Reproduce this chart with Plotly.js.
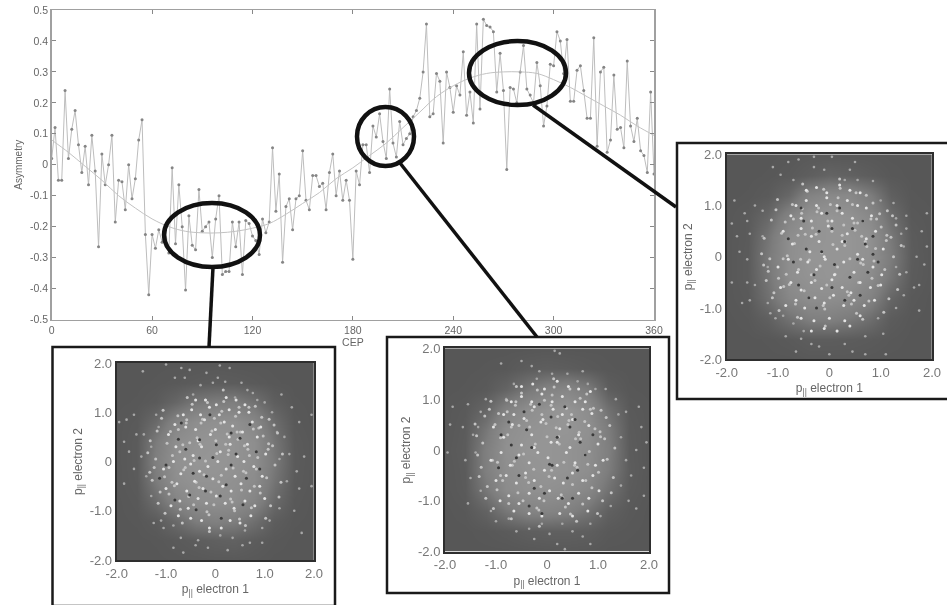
<!DOCTYPE html>
<html><head><meta charset="utf-8">
<script src="https://cdn.plot.ly/plotly-3.0.1.min.js"></script>
<style>html,body{margin:0;padding:0;background:#fff}#c{width:947px;height:605px;filter:blur(0.6px)}</style>
</head><body><div id="c"></div>
<script>
// ---- main curve data ----
const cepStepDeg = [0,2,4,6,8,10,12,14,16,18,20,22,24,26,28,30,32,34,36,38,40,42,44,46,48,50,52,54,56,58,60,62,64,66,68,70,72,74,76,78,80,82,84,86,88,90,92,94,96,98,100,102,104,106,108,110,112,114,116,118,120,122,124,126,128,130,132,134,136,138,140,142,144,146,148,150,152,154,156,158,160,162,164,166,168,170,172,174,176,178,180,182,184,186,188,190,192,194,196,198,200,202,204,206,208,210,212,214,216,218,220,222,224,226,228,230,232,234,236,238,240,242,244,246,248,250,252,254,256,258,260,262,264,266,268,270,272,274,276,278,280,282,284,286,288,290,292,294,296,298,300,302,304,306,308,310,312,314,316,318,320,322,324,326,328,330,332,334,336,338,340,342,344,346,348,350,352,354,356,358,360];
const asymmetry = [.02,.12,-.05,-.05,.24,.02,.115,.175,.065,-.025,.06,-.065,.095,-.02,-.265,.035,-.065,0,.095,-.185,-.05,-.055,-.145,0,-.11,-.045,.08,.145,-.225,-.42,-.225,-.27,-.21,-.25,-.21,-.285,-.01,-.255,-.065,-.2,-.405,-.165,-.26,-.275,-.08,-.215,-.2,-.185,-.3,-.175,-.1,-.355,-.345,-.345,-.185,-.265,-.185,-.355,-.18,-.19,-.23,-.245,-.29,-.175,-.22,-.185,.055,-.15,-.03,-.315,-.135,-.11,-.21,-.11,-.1,.045,-.115,-.145,-.035,-.035,-.07,-.06,-.145,-.025,.035,-.1,-.02,-.115,-.05,-.115,-.305,-.02,-.065,.065,.065,-.025,.125,.09,.165,.075,.02,.245,.07,.025,.14,.065,.085,.1,.155,.175,.215,.30,.455,.155,.165,.295,.27,.07,.30,.25,.17,.255,.225,.365,.16,.235,.135,.455,.18,.47,.45,.445,.43,.235,.36,.24,-.015,.25,.245,.2,.30,.385,.245,.225,.2,.33,.255,.125,.19,.325,.32,.43,.40,.295,.405,.205,.205,.305,.32,.24,.15,.15,.41,.06,.30,.315,.04,.08,.29,.115,.12,.055,.335,.125,.075,.15,.045,.03,-.025,.235,-.03];
const fitCep = [0,10,20,30,40,50,60,70,80,90,100,110,120,130,140,150,160,170,180,190,200,210,220,230,240,250,260,270,280,290,300,310,320,330,340,350,360];
const fitAsym = [.08,.04,-.005,-.05,-.10,-.14,-.175,-.2,-.215,-.22,-.22,-.215,-.205,-.19,-.16,-.125,-.09,-.045,-.01,.03,.07,.12,.17,.22,.255,.28,.295,.30,.30,.295,.275,.25,.22,.19,.16,.125,.095];
const xTickVals = [0,60,120,180,240,300,360];
const yTickVals = [.5,.4,.3,.2,.1,0,-.1,-.2,-.3,-.4,-.5];
const yTickText = ['0.5','0.4','0.3','0.2','0.1','0','-0.1','-0.2','-0.3','-0.4','-0.5'];
const pTickVals = [-2,-1,0,1,2];
const pTickText = ['-2.0','-1.0','0','1.0','2.0'];

// ---- density (brightness on a 0.4 grid) ----
const gridP = [-2,-1.6,-1.2,-.8,-.4,0,.4,.8,1.2,1.6,2];
const densA = [
[0,0,0,.01,.02,.03,.03,.02,0,0,0],
[0,0,.01,.04,.08,.12,.14,.07,.02,0,0],
[0,.01,.06,.25,.5,.58,.52,.32,.08,.01,0],
[0,.03,.28,.65,.85,.88,.85,.66,.25,.03,0],
[.01,.05,.48,.85,.95,.95,.9,.8,.38,.05,.01],
[.01,.06,.55,.9,1,1,.95,.85,.45,.06,.01],
[.01,.06,.48,.85,.95,1,.95,.85,.4,.05,.01],
[.01,.04,.25,.65,.85,.9,.9,.7,.28,.03,0],
[0,.01,.05,.2,.42,.5,.52,.35,.1,.01,0],
[0,0,.01,.03,.06,.08,.07,.04,.01,0,0],
[0,0,0,0,0,.01,0,0,0,0,0]];
const densB = [
[0,0,0,0,.01,.02,.03,.02,0,0,0],
[0,0,.02,.05,.1,.12,.12,.1,.03,.01,0],
[0,.02,.15,.42,.62,.65,.58,.38,.12,.03,0],
[.01,.05,.42,.8,.9,.9,.85,.7,.35,.06,.01],
[.01,.06,.55,.85,.95,1,.95,.85,.5,.08,.01],
[.02,.07,.55,.9,1,1,.95,.85,.55,.07,.01],
[.01,.06,.42,.85,.95,1,1,.9,.5,.06,.01],
[.01,.04,.2,.6,.85,.95,1,.82,.35,.04,.01],
[0,.01,.04,.18,.42,.62,.7,.5,.1,.01,0],
[0,0,.01,.02,.08,.1,.08,.04,.01,0,0],
[0,0,0,0,0,.01,0,0,0,0,0]];
const densC = [
[0,0,0,0,.02,.02,.02,.01,0,0,0],
[0,0,.01,.04,.08,.08,.07,.05,.02,0,0],
[0,.02,.12,.36,.55,.58,.48,.3,.07,.01,0],
[.01,.04,.32,.7,.85,.85,.8,.6,.2,.03,0],
[.01,.06,.4,.85,.95,1,.95,.8,.42,.06,.01],
[.01,.06,.45,.85,1,1,1,.9,.5,.07,.01],
[.01,.05,.38,.85,.95,1,1,.9,.45,.06,.01],
[.01,.05,.22,.65,.95,1,.95,.75,.3,.03,.01],
[0,.01,.05,.22,.62,.75,.75,.5,.12,.01,0],
[0,0,.01,.04,.1,.18,.14,.08,.02,0,0],
[0,0,0,.01,.03,.02,.02,.01,0,0,0]];

// ---- individually visible counts ----
const aSparseX = [-1,-.69,-.52,.09,.29,-.18,-.82,-.62,-1.47,-.05,.05,.53,.76,1.34,-.45,-.3,.2,.65,1,1.55,1.95,1.7,-1.8,-1.95,-1.65,-1.2,-1.85,-1.6,-1.45,-1.75,-1.5,-1.65,-1.4,-1.85,-1.1,-1.25,-1.05,-.85,-.7,-.85,-.65,-.35,-.4,-.15,.1,.25,.35,.6,.7,.95,.55,1.1,1.3,1.6,1.7,1.65,1.5,1.45,1.8,1.95,1.75,1.4,1.15,-1.3,-1.15,-1.3,1.25,1.3,-.2,.4,.85,.95];
const aSparseY = [1.97,1.9,1.86,1.95,1.9,1.8,1.7,1.7,1.83,1.6,1.7,1.6,1.39,1.36,1.36,1.55,1.62,1.45,1.2,1.1,.95,.8,.85,.8,.95,.95,.4,.55,.55,.2,.1,-.15,-.3,-.45,-1.2,-1.25,-1.35,-1.3,-1.55,-1.75,-1.85,-1.6,-1.7,-1.75,-1.5,-1.8,-1.55,-1.4,-1.65,-1.65,-1.7,-1.2,-.95,-1,-.55,-.2,.15,-.4,.1,-.5,-1.45,.5,1,-.7,.7,.3,.6,.05,1.25,1.3,1.25,-1.35];
const aMidX = [-1.32,-1.24,-1.37,-1.18,-1.28,-1.12,-1.21,-1.09,-1.33,-1.16,-.98,-1.03,-.91,-.94,-1.06,-.87,-.76,-.83,-.66,-.71,-.59,-.64,-.47,-.54,-.37,-.43,-.26,-.33,-.16,-.23,-.07,-.13,.03,-.03,.13,.07,.24,.17,.31,.27,.41,.36,.49,.44,.59,.53,.68,.62,.77,.73,.86,.81,.97,.91,1.04,1.09,1.16,1.21,1.12,1.26,1.33,1.19,1.29,1.08,1.36,-.72,-.61,-.52,-.39,-.29,-.2,-.09,.01,.11,.21,.34,.46,.57,.69,.79,.88,-.94,-.88,-.75,-.58,-.44,-.31,-.17,-.02,.12,.26,.39,.51,.66,.83,.94,1.07,-1.02,-.67,.61,1.02,-.12,.16,-.57,.48];
const aMidY = [.42,-.12,.18,.62,-.38,-.62,.05,.88,-.22,-.85,.37,-.31,.61,-.66,1.04,.12,.93,-.49,.34,-.97,.78,-.17,1.16,-.71,.48,.02,.86,-.53,1.2,-.27,.62,-1.08,.16,-.88,1.02,-.41,.56,1.22,-.76,.23,.92,-.13,-1.17,.6,.32,-.58,1.1,-.23,.66,-.94,.08,1.12,.52,-.64,-.33,.86,.32,-.07,-.9,.58,-.42,.74,-.72,.36,.15,.2,-.12,.38,-.42,.78,.01,-.62,.42,.78,.35,-.82,.45,-.2,.12,-.5,.68,-.12,-.42,.65,.85,-.88,.35,-1.02,.88,-.28,.14,-1,.6,.25,-.15,.9,.25,-1.05,-1.25,-1.3,-1.15,-1.42,1.45,1.3,1.1];
const aBrightX = [-.95,-.8,-.62,-.45,-.28,-.1,.1,.28,.45,.65,.85,1.02,-1.05,-.85,-.7,-.5,-.32,-.15,.05,.22,.4,.58,.78,.95,-1,-.78,-.58,-.42,-.25,-.05,.15,.32,.52,.7,.9,-.9,-.72,-.55,-.35,-.18,.02,.2,.38,.6,.8,1.0,-.82,-.6,-.4,-.22,0,.18,.35,.55,.75,.92,-.65,-.48,-.3,-.12,.08,.28,.48,.68,-.4,-.2,.02,.22,.42,.6,-.75,-.5,-.28,.3,.72,-.12,.12,.5,-.35,.3];
const aBrightY = [.55,.3,.05,.12,.3,.55,.2,.5,.1,.35,.5,.15,-.15,.0,-.25,-.05,-.2,-.1,.0,-.15,-.3,.0,-.1,-.3,-.55,-.45,-.6,-.4,-.55,-.35,-.5,-.6,-.45,-.6,-.5,-.9,-.8,-.95,-.75,-.85,-.7,-.85,-.95,-.8,-.9,-.75,.75,.7,.65,.85,.65,.8,.72,.6,.8,.7,.95,1.05,.95,1.1,.95,1.05,1.0,1.0,1.25,1.25,1.15,1.3,1.25,1.15,-1.1,-1.15,-1.2,-1.2,-1.1,-1.35,-1.35,-1.25,.42,.35];
const aDarkX = [.5,.32,-.32,-.69,-1,-.18,-.52,-.82,.32,.63,.12,-.39,-.45,.83,-1.13,.56,.02,-.32,.22,.7,-.11,-.6,.1,.9,-.2,.42,-.05,-.75];
const aDarkY = [.47,.58,.44,.78,-.07,-.3,-.68,-.78,-.07,-.34,-1.15,-.98,-.24,.2,-.34,-.88,.34,.07,-.47,.75,.95,.25,-.7,-.15,-.6,.15,.08,.45];

const bSparseX = [.15,.25,-.9,-.5,-.3,-.15,.1,.4,-.2,-.65,.8,1.15,1.35,1.55,1.8,-1.85,-1.55,-1.3,-1.9,-1.65,-1.45,-1.95,-1.6,-1.4,-1.5,-1.3,-1.55,-1.1,-1,-.75,-.6,-.35,-.25,.05,.2,.35,.5,.7,.85,.85,1.05,1.25,1.6,1.75,1.9,1.45,1.65,1.9,1.55,1.75,1.95,1.85,1.45,1.4,.7,-.8,-1.2,-1.35,.6,.95,-.1,.3];
const bSparseY = [1.95,1.9,1.7,1.75,1.65,1.55,1.5,1.5,1.4,1.3,1.3,1.2,1,.75,.85,.85,.9,.75,.5,.45,.3,-.05,-.2,-.05,-.55,-.8,-1.05,-1.2,-1.4,-1.35,-1.6,-1.55,-1.75,-1.65,-1.85,-1.95,-1.6,-1.7,-1.85,-1.45,-1.3,-1.1,-1,-1.15,-.9,-.7,-.5,-.35,-.2,0,.15,.45,.25,.7,1.55,1,1,.45,1.35,1.2,-1.45,-1.45];
const bMidX = [-1.38,-1.29,-1.41,-1.22,-1.33,-1.17,-1.26,-1.13,-1.36,-1.2,-1.02,-1.07,-.95,-.98,-1.1,-.91,-.79,-.87,-.7,-.75,-.62,-.68,-.5,-.57,-.4,-.46,-.29,-.36,-.19,-.26,-.1,-.16,0,-.06,.1,.04,.21,.14,.28,.24,.38,.33,.46,.41,.56,.5,.65,.59,.74,.7,.83,.78,.94,.88,1.01,1.06,1.13,1.18,1.09,1.23,1.3,1.16,1.26,1.05,1.33,-.77,-.64,-.55,-.42,-.32,-.23,-.12,-.02,.08,.18,.31,.43,.54,.66,.76,.85,-.97,-.91,-.78,-.61,-.47,-.34,-.2,-.05,.09,.23,.36,.48,.63,.8,.91,1.04,-1.05,-.7,.58,.99,-.15,.13,-.6,.45];
const bMidY = [.28,-.34,.51,.67,-.52,-.72,.14,.8,-.1,-.95,.5,-.2,.72,-.78,.96,.24,.98,-.6,.45,-1.05,.88,-.3,1.12,-.84,.58,-.08,.78,-.64,1.18,-.38,.7,-1.18,.26,-1.0,1.08,-.52,.66,1.24,-.88,.12,.82,-.24,-1.26,.5,.22,-.68,1.02,-.34,.56,-1.06,-.03,1.1,.42,-.74,-.44,.78,.22,-.18,-1.0,.48,-.54,.64,-.84,.26,.04,.3,-.22,.48,-.54,.9,.12,-.72,.52,.88,.44,-.94,.58,-.3,.22,-.6,.8,-.24,-.5,.75,.95,-1,.45,-1.14,.98,-.4,.26,-1.12,.7,.35,-.28,.82,.36,-1.15,-1.35,-1.4,-1.25,-1.5,1.4,1.25,1.2];
const bBrightX = [-1.05,-.85,-.68,-.5,-.3,-.12,.08,.25,.45,.62,.82,1.0,-1.1,-.9,-.72,-.55,-.35,-.18,.02,.2,.38,.55,.75,.95,1.1,-1,-.8,-.6,-.42,-.25,-.05,.15,.32,.5,.7,.9,-.92,-.75,-.55,-.35,-.15,.05,.22,.42,.62,.82,1.02,-.85,-.65,-.45,-.25,-.08,.12,.3,.5,.7,.88,-.7,-.5,-.3,-.1,.1,.3,.55,.75,-.5,-.28,-.05,.2,.42,.62,.85,-.65,-.35,-.1,.25,.5,.8,-.25,.2];
const bBrightY = [.45,.25,.5,.1,.3,.55,.15,.42,.05,.3,.48,.12,-.2,-.05,-.3,-.1,-.25,-.05,-.15,-.3,-.05,-.25,-.1,-.3,-.2,-.6,-.5,-.65,-.45,-.6,-.4,-.55,-.65,-.45,-.6,-.5,-1,-.9,-1.05,-.85,-.95,-.8,-.95,-1.05,-.85,-.95,-.8,.7,.7,.62,.85,.6,.8,.7,.6,.8,.72,.95,1.05,.95,1.1,.95,1.05,.95,.95,1.25,1.3,1.2,1.35,1.25,1.2,1.15,-1.2,-1.25,-1.3,-1.25,-1.3,-1.2,.05,.15];
const bDarkX = [.08,-.7,-.3,-.4,.45,.55,.1,.05,-.55,-.25,.4,.6,-.9,-.05,.75,.3,-.15,-.6,.9,-.35,.2,.35,-.75,.65,-.1,.5,-.45,-.95];
const bDarkY = [.65,.1,.05,.4,.45,.6,-.3,-.28,-.5,-.75,-.55,-.4,.3,-.85,-.1,-.95,.9,-.15,.3,-1.1,.25,.85,.55,.15,-1.25,-.95,.75,-.35];

const cSparseX = [-.6,-.3,.05,.5,-.8,-1.1,-.95,-.7,-.3,-.1,.4,.85,.3,-1.85,-1.45,-1.65,-1.6,-1.3,-1.9,-1.8,-1.55,-1.75,-1.6,-1.9,-1.6,-1.45,-1.7,-1.55,-1.2,-1.15,-1.05,-.9,-.7,-.5,-.85,-.55,-.65,-.35,-.2,0,.3,.45,.7,.7,1.1,1.05,.95,1.3,1.75,1.65,1.45,1.5,1.85,1.75,1.7,1.9,1.8,1.5,1.9,1.5,1.45,1.3,1,1.25,-1.3,-1.2,1.3,1.4,.55,.15];
const cSparseY = [1.9,1.95,1.95,1.85,1.85,1.75,1.6,1.5,1.75,1.7,1.7,1.48,1.5,1.1,1,.85,.7,.9,.65,.4,.45,.1,-.05,-.5,-.5,-.55,-.9,-.85,-.9,-1.1,-1.2,-1.15,-1.3,-1.45,-1.55,-1.6,-1.85,-1.7,-1.75,-1.9,-1.7,-1.85,-1.55,-1.9,-1.9,-1.5,-1.2,-1,-1.05,-.6,-.75,-.3,-.15,-.55,0,.2,.5,.55,.85,.8,.2,.75,1.1,1.05,.4,-.2,-.2,.45,1.5,-1.45];
const cMidX = [-1.27,-1.19,-1.32,-1.13,-1.23,-1.08,-1.16,-1.04,-1.28,-1.11,-.93,-.99,-.86,-.89,-1.01,-.82,-.72,-.78,-.61,-.66,-.54,-.6,-.43,-.49,-.33,-.39,-.21,-.28,-.11,-.18,-.03,-.09,.07,.01,.17,.11,.28,.21,.35,.31,.45,.4,.53,.48,.63,.57,.72,.66,.81,.77,.9,.85,1.01,.95,1.08,1.13,1.2,1.25,1.16,1.3,1.37,1.23,1.33,1.12,1.4,-.68,-.56,-.47,-.35,-.24,-.15,-.05,.05,.15,.25,.38,.5,.61,.73,.83,.92,-.9,-.84,-.7,-.53,-.4,-.26,-.12,.02,.16,.3,.43,.55,.7,.87,.98,1.11,-.98,-.62,.65,1.06,-.08,.2,-.52,.52];
const cMidY = [.36,-.28,.06,.72,-.46,-.7,-.04,.92,-.16,-.8,.46,-.42,.68,-.58,1.12,.02,1.02,-.54,.42,-.92,.85,-.25,1.28,-.66,.56,-.06,.95,-.46,1.32,-.18,.7,-1.02,.24,-.8,1.15,-.34,.62,1.34,-.68,.3,1.02,-.04,-1.1,.66,.4,-.5,1.2,-.15,.74,-.86,.16,1.05,.58,-.56,-.25,.9,.38,.0,-.82,.62,-.34,.8,-.64,.42,.22,.26,-.05,.44,-.35,.88,.08,-.55,.5,.9,.42,-.75,.52,-.12,.2,-.42,.74,-.04,-.34,.74,.94,-.8,.44,-.95,1.02,-.2,.22,-.92,.66,.3,-.08,.84,.32,-1.05,-1.18,-1.22,-1.08,-1.35,1.52,1.42,1.25];
const cBrightX = [-.9,-.72,-.55,-.38,-.2,-.02,.15,.35,.55,.72,.9,1.05,-1,-.8,-.62,-.42,-.25,-.08,.1,.28,.48,.65,.85,1.02,-.95,-.75,-.55,-.35,-.15,.05,.25,.42,.6,.8,1.0,-.85,-.65,-.48,-.28,-.1,.08,.28,.48,.68,.88,-.75,-.55,-.35,-.15,.05,.25,.45,.65,.82,-.65,-.45,-.25,-.05,.15,.35,.55,.72,-.45,-.25,-.05,.2,.4,.6,-.55,-.3,0,.3,.6,-.35,-.1,.15,.4,-.1,-.35,.25];
const cBrightY = [.5,.25,.55,.1,.3,.6,.15,.45,.05,.35,.5,.15,-.2,-.05,-.3,-.1,-.25,-.05,-.35,-.1,-.3,-.05,-.2,-.35,-.6,-.5,-.65,-.5,-.62,-.45,-.6,-.7,-.5,-.6,-.55,-.95,-.85,-1,-.8,-.9,-.75,-.95,-.85,-.95,-.85,.8,.75,.7,.85,.7,.85,.75,.7,.8,1,1.1,1.0,1.15,1,1.1,1.0,.95,1.3,1.35,1.25,1.4,1.3,1.25,-1.2,-1.25,-1.2,-1.25,-1.15,-1.45,-1.4,-1.45,-1.35,.0,.4,.3];
const cDarkX = [-.5,-.45,.05,.3,.65,.85,-.7,-.3,.05,.4,.7,-.05,-.6,.55,.2,-.4,.3,-.15,.75,-.8,.95,-.2,.45,-.55,.1,.6,.85,-.25];
const cDarkY = [.7,.15,.55,.3,.7,.05,-.1,-.35,-.6,-.4,.25,.85,-.55,-.05,.95,-.8,-.85,.1,-.3,.35,-.1,.5,.55,.95,-.15,-.75,.4,-1.0];

// ---- page geometry, in page pixels ----
const W = 947, H = 605;
const fx = v => v / W, fy = v => 1 - v / H;
const mainBox = {l:51.7, r:654, t:10, b:319.5};
const panels = [
  {frame:[52.5,335,347,606], box:{l:116.7,r:314,t:363,b:560}, d:densA, s:[aSparseX,aSparseY], m:[aMidX,aMidY], w:[aBrightX,aBrightY], k:[aDarkX,aDarkY]},
  {frame:[387,669,337,593], box:{l:445,r:649,t:348.3,b:551.7}, d:densB, s:[bSparseX,bSparseY], m:[bMidX,bMidY], w:[bBrightX,bBrightY], k:[bDarkX,bDarkY]},
  {frame:[677,950,143,399], box:{l:726.7,r:932,t:154.3,b:359.3}, d:densC, s:[cSparseX,cSparseY], m:[cMidX,cMidY], w:[cBrightX,cBrightY], k:[cDarkX,cDarkY]}
];
const rings = [[164,260,203,267],[357,414,107,166],[469,566,41,105]];
const leaders = [[213,267,209,347],[400,163,537,337],[533,105,676,207]];

const FONT = 'Liberation Sans, Arial, sans-serif';
const traces = [
  {x:cepStepDeg, y:asymmetry, type:'scatter', mode:'lines+markers', xaxis:'x', yaxis:'y',
   line:{color:'#bdbdbd',width:1}, marker:{color:'#858585',size:3}, hoverinfo:'skip'},
  {x:fitCep, y:fitAsym, type:'scatter', mode:'lines', xaxis:'x', yaxis:'y',
   line:{color:'#c2c2c2',width:1,shape:'spline'}, hoverinfo:'skip'}
];
const layout = {
  width:W, height:H, margin:{l:0,r:0,t:0,b:0}, showlegend:false,
  paper_bgcolor:'#fff', plot_bgcolor:'#fff', font:{family:FONT,color:'#666'},
  xaxis:{domain:[fx(mainBox.l),fx(mainBox.r)], range:[0,360], anchor:'y', tickvals:xTickVals, ticktext:xTickVals.map(String),
    ticks:'inside', ticklen:4, tickcolor:'#888', showline:true, mirror:'ticks', linecolor:'#a0a0a0', linewidth:1.5, showgrid:false, zeroline:false,
    tickfont:{size:10.5,color:'#666'}, title:{text:'CEP',font:{size:10.5,color:'#666'},standoff:3}},
  yaxis:{domain:[fy(mainBox.b),fy(mainBox.t)], range:[-.5,.5], anchor:'x', tickvals:yTickVals, ticktext:yTickText,
    ticks:'inside', ticklen:4, tickcolor:'#888', showline:true, mirror:'ticks', linecolor:'#a0a0a0', linewidth:1.5, showgrid:false, zeroline:false,
    tickfont:{size:10.5,color:'#666'}, title:{text:'Asymmetry',font:{size:10,color:'#666'},standoff:5}},
  shapes:[]
};
panels.forEach((p,i)=>{
  const n = i+2, xa='x'+n, ya='y'+n;
  traces.push({z:p.d, x:gridP, y:gridP, type:'heatmap', xaxis:xa, yaxis:ya, zmin:0, zmax:1, zsmooth:'best', showscale:false, hoverinfo:'skip',
    colorscale:[[0,'#575757'],[.5,'#7d7d7d'],[1,'#959595']]});
  traces.push({x:p.s[0], y:p.s[1], type:'scatter', mode:'markers', xaxis:xa, yaxis:ya, marker:{color:'#a8a8a8',size:2.6}, hoverinfo:'skip'});
  traces.push({x:p.m[0], y:p.m[1], type:'scatter', mode:'markers', xaxis:xa, yaxis:ya, marker:{color:'#c4c4c4',size:3}, hoverinfo:'skip'});
  traces.push({x:p.w[0], y:p.w[1], type:'scatter', mode:'markers', xaxis:xa, yaxis:ya, marker:{color:'#e4e4e4',size:3}, hoverinfo:'skip'});
  traces.push({x:p.k[0], y:p.k[1], type:'scatter', mode:'markers', xaxis:xa, yaxis:ya, marker:{color:'#3a3a3a',size:3}, hoverinfo:'skip'});
  const ax = {range:[-2,2], tickvals:pTickVals, ticktext:pTickText, ticks:'', showgrid:false, zeroline:false,
    showline:true, mirror:true, linecolor:'#2e2e2e', linewidth:2, tickfont:{size:13,color:'#777'}};
  layout['xaxis'+n] = Object.assign({}, ax, {domain:[fx(p.box.l),fx(p.box.r)], anchor:ya,
    title:{text:'p<sub>||</sub> electron 1',font:{size:12,color:'#666'},standoff:5}});
  layout['yaxis'+n] = Object.assign({}, ax, {domain:[fy(p.box.b),fy(p.box.t)], anchor:xa,
    title:{text:'p<sub>||</sub> electron 2',font:{size:12,color:'#666'},standoff:-2}});
  layout.shapes.push({type:'rect', xref:'paper', yref:'paper', layer:'below', x0:fx(p.frame[0]), x1:fx(p.frame[1]), y0:fy(p.frame[3]), y1:fy(p.frame[2]),
    fillcolor:'#fff', line:{color:'#1a1a1a',width:2.5}});
});
rings.forEach(r=>layout.shapes.push({type:'circle', xref:'paper', yref:'paper', x0:fx(r[0]), x1:fx(r[1]), y0:fy(r[3]), y1:fy(r[2]), line:{color:'#111',width:4.5}}));
leaders.forEach(l=>layout.shapes.push({type:'line', xref:'paper', yref:'paper', x0:fx(l[0]), y0:fy(l[1]), x1:fx(l[2]), y1:fy(l[3]), line:{color:'#111',width:3.5}}));
Plotly.newPlot('c', traces, layout, {displayModeBar:false, staticPlot:true});
</script></body></html>
